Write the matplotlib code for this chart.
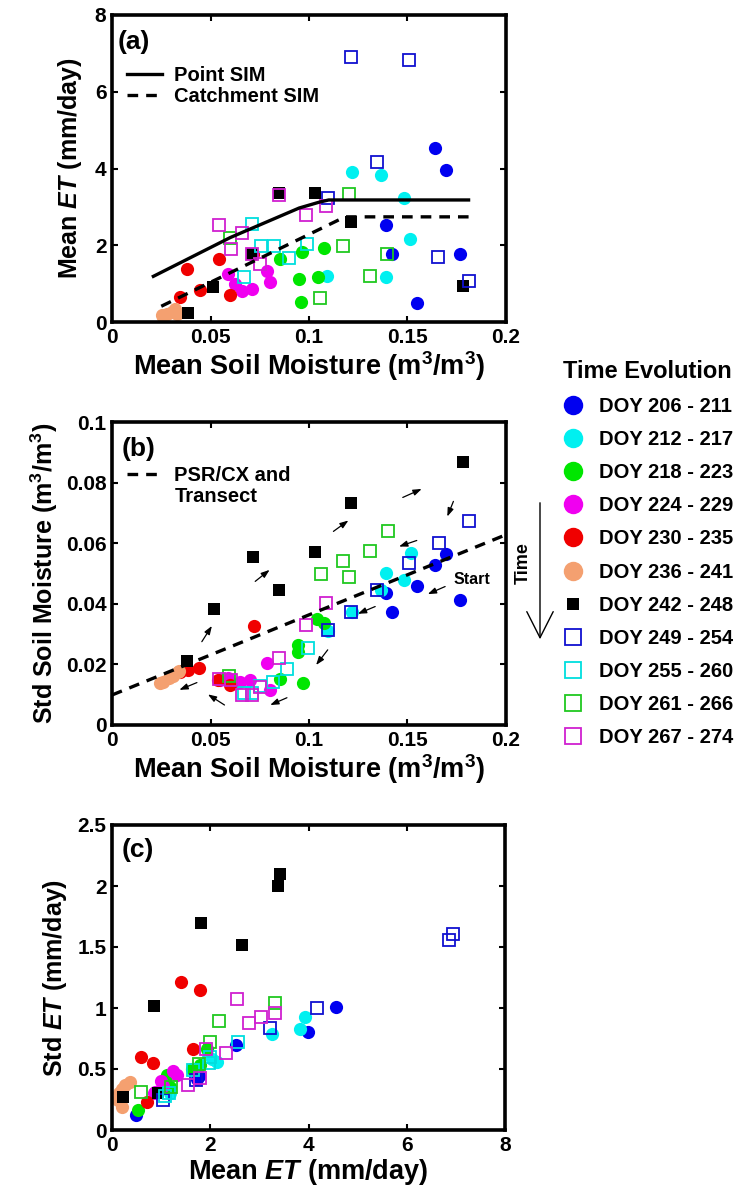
import matplotlib
matplotlib.use("Agg")
import matplotlib.pyplot as plt
from matplotlib.lines import Line2D

plt.rcParams['font.family'] = ['Liberation Sans', 'DejaVu Sans']
plt.rcParams['font.weight'] = 'bold'
plt.rcParams['axes.labelweight'] = 'bold'
plt.rcParams['mathtext.fontset'] = 'custom'
plt.rcParams['mathtext.it'] = 'Liberation Sans:italic:bold'
plt.rcParams['mathtext.rm'] = 'Liberation Sans:bold'
plt.rcParams['mathtext.bf'] = 'Liberation Sans:bold'

# time groups (6-day windows)
labels = ['DOY 206 - 211', 'DOY 212 - 217', 'DOY 218 - 223', 'DOY 224 - 229',
          'DOY 230 - 235', 'DOY 236 - 241', 'DOY 242 - 248', 'DOY 249 - 254',
          'DOY 255 - 260', 'DOY 261 - 266', 'DOY 267 - 274']
colors = ['#0000f0', '#00f0f0', '#00e600', '#f000f0', '#f00000', '#f4a070',
          'black', '#1010d0', '#00dede', '#20c820', '#d020d0']
markers = ['o', 'o', 'o', 'o', 'o', 'o', 's', 's', 's', 's', 's']
filled = [True, True, True, True, True, True, True, False, False, False, False]

# (a) mean soil moisture vs mean ET
a_x = [[0.164, 0.1696, 0.139, 0.142, 0.1767, 0.1547],
       [0.1217, 0.1366, 0.148, 0.1513, 0.109, 0.139],
       [0.0964, 0.1077, 0.0854, 0.095, 0.1048, 0.096],
       [0.0588, 0.0626, 0.066, 0.071, 0.0786, 0.080],
       [0.038, 0.0541, 0.0445, 0.0347, 0.060, 0.0715],
       [0.0254, 0.028, 0.0304, 0.032, 0.026, 0.033],
       [0.0849, 0.1031, 0.1212, 0.071, 0.0512, 0.0385, 0.1784],
       [0.1212, 0.1508, 0.1344, 0.1095, 0.1657, 0.1814],
       [0.071, 0.0757, 0.082, 0.090, 0.0989, 0.0668],
       [0.1205, 0.1175, 0.131, 0.1395, 0.1057, 0.060],
       [0.0541, 0.066, 0.0605, 0.0849, 0.0984, 0.1087, 0.0752, 0.071]]
a_y = [[4.54, 3.97, 2.52, 1.77, 1.77, 0.50],
       [3.91, 3.83, 3.24, 2.15, 1.21, 1.16],
       [1.83, 1.94, 1.63, 1.13, 1.16, 0.52],
       [1.24, 1.0, 0.80, 0.85, 1.32, 1.03],
       [1.39, 1.63, 0.83, 0.65, 0.70, 1.78],
       [0.17, 0.22, 0.26, 0.35, 0.13, 0.22],
       [3.37, 3.37, 2.61, 1.78, 0.90, 0.24, 0.94],
       [6.90, 6.83, 4.17, 3.24, 1.70, 1.07],
       [2.55, 1.98, 1.98, 1.67, 2.02, 1.17],
       [3.33, 1.98, 1.20, 1.77, 0.63, 2.20],
       [2.52, 2.33, 1.89, 3.30, 2.78, 3.02, 1.52, 1.78]]

point_sim_x = [0.021, 0.06, 0.095, 0.105, 0.11, 0.181]
point_sim_y = [1.19, 2.2, 2.97, 3.12, 3.18, 3.18]
catch_sim_x = [0.025, 0.1183, 0.181]
catch_sim_y = [0.41, 2.74, 2.74]

# (b) mean soil moisture vs std soil moisture
b_x = [[0.1694, 0.164, 0.1547, 0.1391, 0.1423, 0.1767],
       [0.1516, 0.139, 0.1484, 0.1098, 0.1217, 0.1366],
       [0.1043, 0.1077, 0.0946, 0.0946, 0.0853, 0.0968],
       [0.0785, 0.070, 0.065, 0.059, 0.0802, 0.055],
       [0.0719, 0.0443, 0.0387, 0.0347, 0.054, 0.0599],
       [0.0245, 0.026, 0.029, 0.031, 0.0335, 0.034],
       [0.1784, 0.1212, 0.0715, 0.1031, 0.085, 0.0516, 0.0382],
       [0.1814, 0.1661, 0.151, 0.1347, 0.1212, 0.1098],
       [0.0997, 0.089, 0.0819, 0.0751, 0.071, 0.0668],
       [0.1403, 0.131, 0.1171, 0.1203, 0.106, 0.0596],
       [0.1087, 0.0984, 0.0849, 0.066, 0.071, 0.0752, 0.0541, 0.0605]]
b_y = [[0.0563, 0.0528, 0.0459, 0.0435, 0.0374, 0.0413],
       [0.0569, 0.0503, 0.0479, 0.031, 0.0372, 0.0445],
       [0.0349, 0.0336, 0.0264, 0.0242, 0.0151, 0.0138],
       [0.0206, 0.0149, 0.0143, 0.0154, 0.0116, 0.0150],
       [0.0327, 0.0187, 0.0182, 0.0176, 0.0149, 0.0132],
       [0.0138, 0.0143, 0.0154, 0.0162, 0.0175, 0.0179],
       [0.0867, 0.0732, 0.0553, 0.0572, 0.0446, 0.0382, 0.0212],
       [0.0674, 0.060, 0.0534, 0.0446, 0.0374, 0.0314],
       [0.0253, 0.0184, 0.0143, 0.0128, 0.0104, 0.0104],
       [0.0641, 0.0574, 0.0542, 0.0489, 0.050, 0.0162],
       [0.0404, 0.033, 0.022, 0.0099, 0.0099, 0.0126, 0.0152, 0.0148]]

psr_x = [0.0, 0.2]
psr_y = [0.0099, 0.0628]

# arrows showing the time path in (b): start -> end
arrow_from = [(0.1476, 0.0751), (0.1733, 0.0738), (0.1547, 0.0609), (0.1691, 0.0457),
              (0.1336, 0.0391), (0.1124, 0.0639), (0.0727, 0.0474), (0.1095, 0.0248),
              (0.0888, 0.0090), (0.0571, 0.0066), (0.0431, 0.0140), (0.0456, 0.0275)]
arrow_to = [(0.1572, 0.0779), (0.1702, 0.0688), (0.1457, 0.0589), (0.1603, 0.0432),
            (0.1248, 0.0367), (0.1200, 0.0675), (0.0800, 0.0512), (0.1036, 0.0198),
            (0.0803, 0.0066), (0.0487, 0.0101), (0.0342, 0.0116), (0.0507, 0.0327)]

# (c) mean ET vs std ET
c_x = [[4.56, 3.99, 2.53, 1.74, 1.78, 0.49],
       [3.93, 3.82, 3.25, 2.13, 2.03, 1.18],
       [1.80, 1.93, 1.63, 1.11, 1.18, 0.52],
       [1.25, 1.32, 0.99, 0.875, 1.03, 0.85],
       [1.41, 1.80, 1.64, 0.60, 0.83, 0.71],
       [0.37, 0.20, 0.13, 0.20, 0.27, 0.15],
       [3.41, 3.38, 1.81, 2.64, 0.86, 0.23, 0.94],
       [6.95, 6.86, 4.18, 3.21, 1.71, 1.04],
       [2.57, 1.65, 1.99, 1.08, 1.98, 1.17],
       [3.31, 2.18, 2.00, 1.78, 1.21, 0.60],
       [2.54, 3.31, 3.04, 2.79, 2.33, 1.91, 1.55, 1.79]]
c_y = [[1.01, 0.80, 0.70, 0.415, 0.44, 0.12],
       [0.93, 0.83, 0.79, 0.56, 0.58, 0.30],
       [0.53, 0.66, 0.50, 0.45, 0.355, 0.16],
       [0.48, 0.45, 0.40, 0.31, 0.36, 0.30],
       [1.21, 1.15, 0.66, 0.60, 0.55, 0.23],
       [0.39, 0.34, 0.25, 0.19, 0.37, 0.30],
       [2.10, 2.00, 1.70, 1.52, 1.016, 0.268, 0.306],
       [1.61, 1.56, 1.00, 0.84, 0.41, 0.25],
       [0.72, 0.49, 0.60, 0.28, 0.55, 0.30],
       [1.04, 0.89, 0.72, 0.54, 0.355, 0.31],
       [1.07, 0.96, 0.93, 0.88, 0.63, 0.66, 0.37, 0.43]]


def draw_groups(ax, xs, ys):
    for i in range(len(labels)):
        if markers[i] == 'o':
            ax.plot(xs[i], ys[i], ls='none', marker='o', ms=9.5, mfc=colors[i],
                    mec=colors[i], mew=0)
        elif filled[i]:
            ax.plot(xs[i], ys[i], ls='none', marker='s', ms=8.5, mfc=colors[i],
                    mec=colors[i], mew=0)
        else:
            ax.plot(xs[i], ys[i], ls='none', marker='s', ms=8, mfc='none',
                    mec=colors[i], mew=1.3)


def style(ax, xlim, ylim, xt, yt):
    ax.set_xlim(*xlim)
    ax.set_ylim(*ylim)
    ax.set_xticks(xt)
    ax.set_yticks(yt)
    ax.set_xticklabels([f'{v:g}' for v in xt])
    ax.set_yticklabels([f'{v:g}' for v in yt])
    ax.tick_params(direction='in', top=True, right=True, length=4, width=1.5,
                   labelsize=15, pad=4)
    for s in ax.spines.values():
        s.set_linewidth(2.6)


fig = plt.figure(figsize=(7.44, 11.94), dpi=100)
W, H = 744, 1194


def add_ax(left, top, right, bottom):
    return fig.add_axes([left / W, 1 - bottom / H, (right - left) / W, (bottom - top) / H])


ax_a = add_ax(112, 15, 506, 322)
ax_b = add_ax(112, 422, 506, 725)
ax_c = add_ax(112, 825, 505, 1130)

# panel (a)
draw_groups(ax_a, a_x, a_y)
l1, = ax_a.plot(point_sim_x, point_sim_y, color='black', lw=2.4)
l2, = ax_a.plot(catch_sim_x, catch_sim_y, color='black', lw=2.4, dashes=(3.2, 2.4))
style(ax_a, (0, 0.2), (0, 8), [0, 0.05, 0.1, 0.15, 0.2], [0, 2, 4, 6, 8])
ax_a.set_xlabel('Mean Soil Moisture (m$^3$/m$^3$)', fontsize=19.5, labelpad=2)
ax_a.set_ylabel('Mean $ET$ (mm/day)', fontsize=18, labelpad=8)
ax_a.text(0.015, 0.95, '(a)', transform=ax_a.transAxes, fontsize=19, va='top', ha='left')
ax_a.legend([l1, l2], ['Point SIM', 'Catchment SIM'], loc='upper left',
            bbox_to_anchor=(0.038, 0.835), frameon=False, fontsize=14.5,
            handlelength=1.75, handletextpad=0.6, labelspacing=0.1,
            borderpad=0, borderaxespad=0)

# panel (b)
draw_groups(ax_b, b_x, b_y)
l3, = ax_b.plot(psr_x, psr_y, color='black', lw=2.4, dashes=(3.2, 2.4))
for p0, p1 in zip(arrow_from, arrow_to):
    ax_b.annotate('', xy=p1, xytext=p0,
                  arrowprops=dict(arrowstyle='-|>,head_length=0.5,head_width=0.18',
                                  color='black', lw=0.9, shrinkA=0, shrinkB=0))
ax_b.text(0.1733, 0.0479, 'Start', fontsize=11.5, ha='left', va='center')
style(ax_b, (0, 0.2), (0, 0.1), [0, 0.05, 0.1, 0.15, 0.2],
      [0, 0.02, 0.04, 0.06, 0.08, 0.1])
ax_b.set_xlabel('Mean Soil Moisture (m$^3$/m$^3$)', fontsize=19.5, labelpad=2)
ax_b.set_ylabel('Std Soil Moisture (m$^3$/m$^3$)', fontsize=18, labelpad=4)
ax_b.text(0.025, 0.952, '(b)', transform=ax_b.transAxes, fontsize=19, va='top', ha='left')
ax_b.legend([l3, Line2D([], [], ls='none')], ['PSR/CX and', 'Transect'],
            loc='upper left', bbox_to_anchor=(0.038, 0.855), frameon=False,
            fontsize=14.5, handlelength=1.75, handletextpad=0.6, labelspacing=0.1,
            borderpad=0, borderaxespad=0)

# panel (c)
draw_groups(ax_c, c_x, c_y)
style(ax_c, (0, 8), (0, 2.5), [0, 2, 4, 6, 8], [0, 0.5, 1, 1.5, 2, 2.5])
ax_c.set_xlabel('Mean $ET$ (mm/day)', fontsize=19.5, labelpad=2)
ax_c.set_ylabel('Std $ET$ (mm/day)', fontsize=18, labelpad=6)
ax_c.text(0.025, 0.956, '(c)', transform=ax_c.transAxes, fontsize=19, va='top', ha='left')

# shared legend on the right
handles = []
for i in range(len(labels)):
    if markers[i] == 'o':
        handles.append(Line2D([], [], ls='none', marker='o', ms=14, mfc=colors[i], mew=0))
    elif filled[i]:
        handles.append(Line2D([], [], ls='none', marker='s', ms=9, mfc=colors[i], mew=0))
    else:
        handles.append(Line2D([], [], ls='none', marker='s', ms=11, mfc='none',
                              mec=colors[i], mew=1.3))
leg = fig.legend(handles, labels, loc='upper left', bbox_to_anchor=(563 / W, 1 - 360 / H),
                 frameon=False, fontsize=14.5, title='Time Evolution',
                 title_fontproperties={'weight': 'bold', 'size': 17},
                 alignment='left', handlelength=1.0, handletextpad=0.8,
                 labelspacing=0.7, borderpad=0, borderaxespad=0)

# time arrow
fig.patches.append(matplotlib.patches.FancyArrowPatch(
    (540 / W, 1 - 500 / H), (540 / W, 1 - 642 / H), transform=fig.transFigure,
    arrowstyle='->,head_length=0.75,head_width=0.38', mutation_scale=25,
    color='black', lw=1.0))
fig.text(523 / W, 1 - 563 / H, 'Time', rotation=90, fontsize=13, ha='center', va='center')

fig.savefig('out.png', dpi=100)
